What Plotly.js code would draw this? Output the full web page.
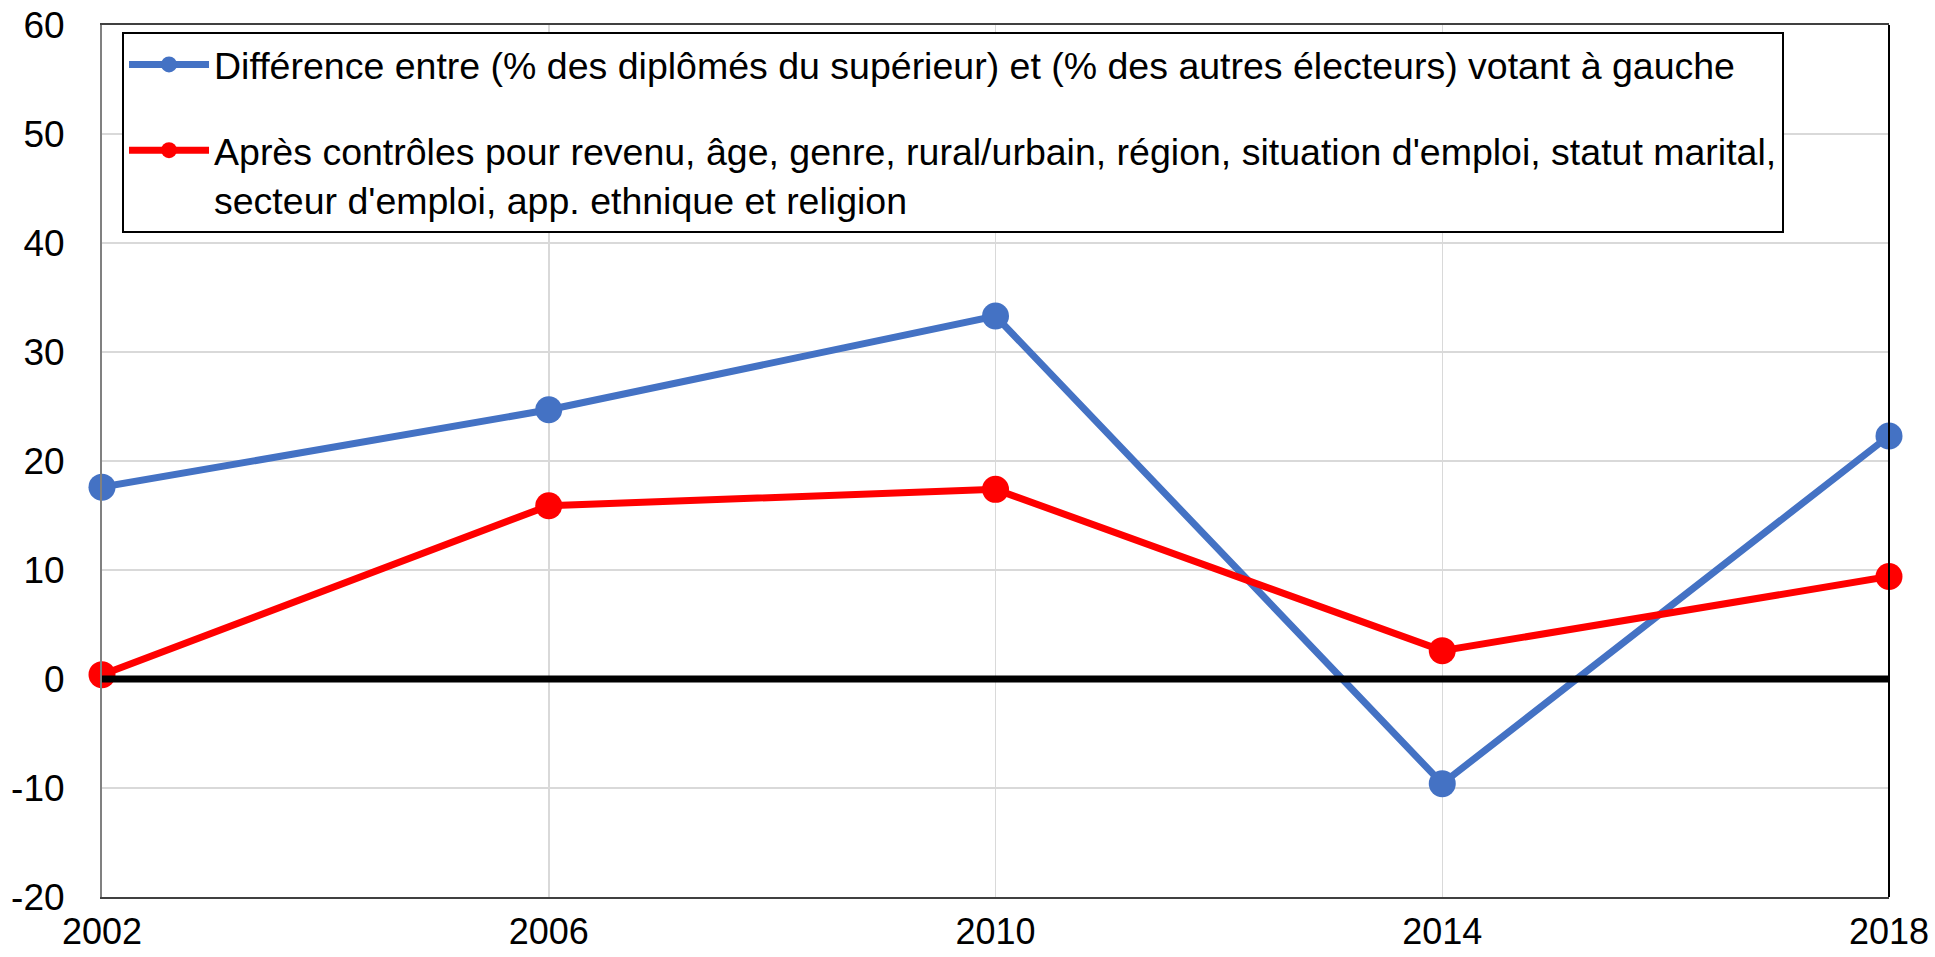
<!DOCTYPE html>
<html>
<head>
<meta charset="utf-8">
<script src="https://cdn.plot.ly/plotly-3.0.1.min.js"></script>
<style>html,body{margin:0;padding:0;background:#fff}#chart{width:1935px;height:957px}</style>
</head>
<body>
<div id="chart"></div>
<script>
const years = [2002, 2006, 2010, 2014, 2018];
const yearLabels = ["2002", "2006", "2010", "2014", "2018"];
const diffRaw = [17.6, 24.7, 33.3, -9.6, 22.3];
const diffControlled = [0.4, 15.9, 17.4, 2.6, 9.4];
const nameRaw = "Différence entre (% des diplômés du supérieur) et (% des autres électeurs) votant à gauche";
const nameControlled = "Après contrôles pour revenu, âge, genre, rural/urbain, région, situation d'emploi, statut marital,<br>secteur d'emploi, app. ethnique et religion";
const yTicks = [-20, -10, 0, 10, 20, 30, 40, 50, 60];
const yTickLabels = ["-20", "-10", "0", "10", "20", "30", "40", "50", "60"];

const FONT = "Liberation Sans, Arial, sans-serif";

const traces = [
  {
    x: years, y: diffRaw, name: nameRaw, legendgroup: "a",
    type: "scatter", mode: "lines+markers", cliponaxis: false,
    line: {color: "#4472C4", width: 7},
    marker: {color: "#4472C4", size: 27}
  },
  {
    x: years, y: diffControlled, name: nameControlled, legendgroup: "b",
    type: "scatter", mode: "lines+markers", cliponaxis: false,
    line: {color: "#FF0000", width: 7},
    marker: {color: "#FF0000", size: 27}
  }
];

const layout = {
  width: 1935, height: 957,
  margin: {l: 102, r: 46, t: 25, b: 60, pad: 0},
  paper_bgcolor: "#fff", plot_bgcolor: "#fff",
  font: {family: FONT, size: 37, color: "#000"},
  showlegend: true,
  xaxis: {
    type: "linear", range: [years[0], years[years.length - 1]],
    tickmode: "array", tickvals: years, ticktext: yearLabels,
    showgrid: true, gridcolor: "#d9d9d9", gridwidth: 1.5,
    zeroline: false,
    showline: true, linecolor: "#404040", linewidth: 2, mirror: true,
    ticks: "outside", ticklen: 2, tickcolor: "rgba(0,0,0,0)",
    tickfont: {family: FONT, size: 36, color: "#000"}
  },
  yaxis: {
    range: [-20, 60], tickmode: "array", tickvals: yTicks, ticktext: yTickLabels,
    showgrid: true, gridcolor: "#d9d9d9", gridwidth: 1.5,
    zeroline: false,
    showline: true, linecolor: "#808080", linewidth: 2,
    ticks: "outside", ticklen: 28, tickcolor: "rgba(0,0,0,0)",
    tickfont: {family: FONT, size: 37, color: "#000"}
  },
  shapes: [
    {type: "line", xref: "paper", x0: 1, x1: 1, yref: "paper", y0: 0, y1: 1,
     line: {color: "#000", width: 2}, layer: "above"},
    {type: "line", xref: "paper", x0: 0, x1: 1, yref: "y", y0: 0, y1: 0,
     line: {color: "#000", width: 7}, layer: "above"}
  ],
  legend: {
    x: 0.0112, y: 0.9925, xanchor: "left", yanchor: "top",
    bgcolor: "#fff", bordercolor: "#000", borderwidth: 2,
    font: {family: FONT, size: 37.5, color: "#000"},
    valign: "top", tracegroupgap: 34, itemwidth: 80
  }
};

Plotly.newPlot("chart", traces, layout, {staticPlot: true, displayModeBar: false});
</script>
</body>
</html>
